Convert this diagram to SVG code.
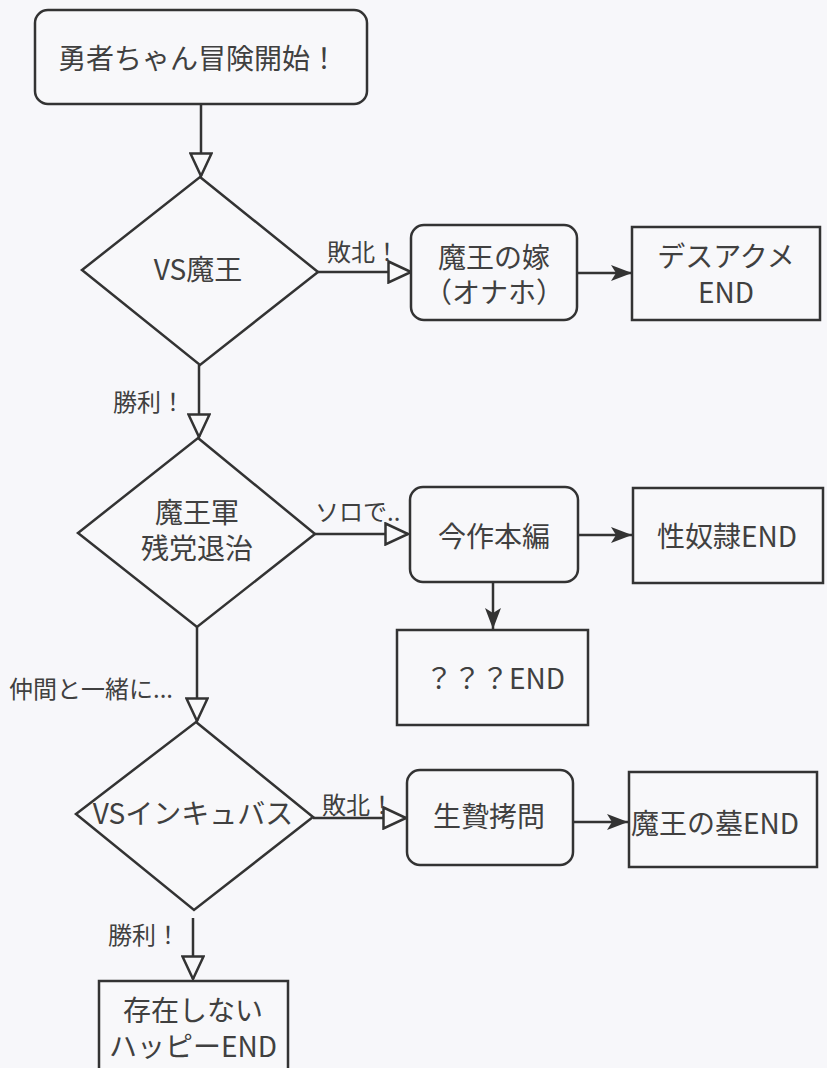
<svg xmlns="http://www.w3.org/2000/svg" width="827" height="1068" viewBox="0 0 827 1068">
<defs>
<style>
.shape{fill:#f8f8fa;stroke:#333;stroke-width:2.5}
.t{font-family:"Noto Sans CJK JP","Noto Sans",sans-serif;font-size:28px;fill:#404040;text-anchor:middle;dominant-baseline:central}
.lbl{font-family:"Noto Sans CJK JP","Noto Sans",sans-serif;font-size:24px;fill:#404040;dominant-baseline:central}
.c{fill:none;stroke:#333;stroke-width:2.5}
</style>
<marker id="open" viewBox="0 0 26 24" markerUnits="userSpaceOnUse" markerWidth="26" markerHeight="24" refX="24" refY="12" orient="auto">
<path d="M1.5,1.5 L24,12 L1.5,22.5 Z" fill="#f8f8fa" stroke="#333" stroke-width="2.5"/>
</marker>
<marker id="fill" viewBox="0 0 22 18" markerUnits="userSpaceOnUse" markerWidth="22" markerHeight="18" refX="21" refY="9" orient="auto">
<path d="M0,1 L21,9 L0,17 L5,9 Z" fill="#333"/>
</marker>
</defs>
<rect x="0" y="0" width="827" height="1068" fill="#f7f7fa"/>
<g id="connectors">
<path class="c" d="M201,104 V176" marker-end="url(#open)"/>
<path class="c" d="M318,272 H411" marker-end="url(#open)"/>
<path class="c" d="M577,273 H632" marker-end="url(#fill)"/>
<path class="c" d="M199,365 V437" marker-end="url(#open)"/>
<path class="c" d="M315,534 H408" marker-end="url(#open)"/>
<path class="c" d="M578,535 H632" marker-end="url(#fill)"/>
<path class="c" d="M493,582 V629" marker-end="url(#fill)"/>
<path class="c" d="M197,627 V721" marker-end="url(#open)"/>
<path class="c" d="M313,818 H406" marker-end="url(#open)"/>
<path class="c" d="M573,822 H628" marker-end="url(#fill)"/>
<path class="c" d="M193,918 V979" marker-end="url(#open)"/>
<text class="lbl" x="327" y="250">敗北！</text>
<text class="lbl" x="113" y="400">勝利！</text>
<text class="lbl" x="315" y="510">ソロで..</text>
<text class="lbl" x="9" y="687">仲間と一緒に...</text>
<text class="lbl" x="322" y="803">敗北！</text>
<text class="lbl" x="108" y="933">勝利！</text>
</g>
<g id="start">
<rect class="shape" x="35" y="10" width="332" height="94" rx="13"/>
<text class="t" x="198" y="57">勇者ちゃん冒険開始！</text>
</g>
<g id="vs-maou">
<polygon class="shape" points="200,177 318,272 200,365 82,270"/>
<text class="t" x="198" y="268">VS魔王</text>
</g>
<g id="maou-yome">
<rect class="shape" x="411" y="225" width="166" height="95" rx="13"/>
<text class="t" x="494" y="256">魔王の嫁</text>
<text class="t" x="494" y="291">（オナホ）</text>
</g>
<g id="death-end">
<rect class="shape" x="632" y="227" width="188" height="93"/>
<text class="t" x="726" y="255">デスアクメ</text>
<text class="t" x="726" y="291">END</text>
</g>
<g id="zantou">
<polygon class="shape" points="198,438 315,534 197,627 78,533"/>
<text class="t" x="197" y="511">魔王軍</text>
<text class="t" x="197" y="547">残党退治</text>
</g>
<g id="honpen">
<rect class="shape" x="410" y="487" width="168" height="95" rx="13"/>
<text class="t" x="494" y="535">今作本編</text>
</g>
<g id="dorei-end">
<rect class="shape" x="633" y="488" width="190" height="95"/>
<text class="t" x="727" y="535">性奴隷END</text>
</g>
<g id="unknown-end">
<rect class="shape" x="397" y="630" width="191" height="95"/>
<text class="t" x="495" y="677">？？？END</text>
</g>
<g id="vs-incubus">
<polygon class="shape" points="196,722 313,817 194,910 76,814"/>
<text class="t" x="193" y="812">VSインキュバス</text>
</g>
<g id="ikenie">
<rect class="shape" x="407" y="770" width="166" height="95" rx="13"/>
<text class="t" x="489" y="815">生贄拷問</text>
</g>
<g id="haka-end">
<rect class="shape" x="629" y="772" width="188" height="95"/>
<text class="t" x="715" y="822">魔王の墓END</text>
</g>
<g id="happy-end">
<rect class="shape" x="99" y="981" width="189" height="100"/>
<text class="t" x="193" y="1009">存在しない</text>
<text class="t" x="193" y="1045">ハッピーEND</text>
</g>
</svg>
